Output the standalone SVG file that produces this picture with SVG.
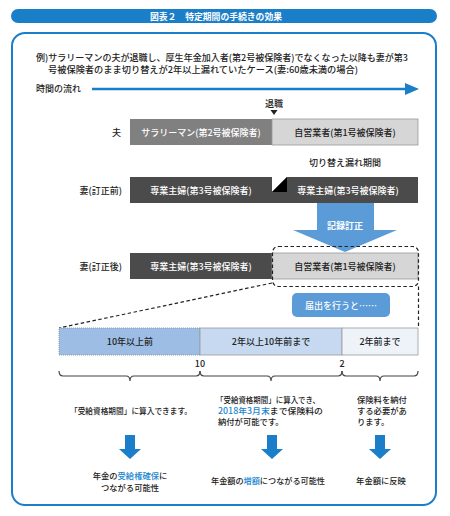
<svg xmlns="http://www.w3.org/2000/svg" width="450" height="516" viewBox="0 0 450 516">
<style>
text{font-family:"Noto Sans CJK JP","Noto Sans",sans-serif;fill:#222;font-weight:500;}
.t9{font-size:9px;}
.t8{font-size:8.3px;}
.w{fill:#fff;}
.c{text-anchor:middle;}
.r{text-anchor:end;}
.b{fill:#1a86d0;}
.lt{fill:#d6d6d6;stroke:#9a9a9a;stroke-width:0.8;}
.dk{fill:#4b4b4b;}
.md{fill:#808080;}
.dash{fill:none;stroke:#222;stroke-width:1.2;stroke-dasharray:3.5 2.5;}
.brace{fill:none;stroke:#444;stroke-width:1.2;}
.darr{fill:#1a7ec8;}
</style>
<rect x="11" y="9" width="426" height="14" rx="7" fill="#1a7ec8"/>
<text x="216" y="19.5" class="c w" style="font-size:8.8px;font-weight:bold">図表２　特定期間の手続きの効果</text>
<rect x="12" y="33" width="424" height="472" rx="13" fill="#fff" stroke="#1a7ec8" stroke-width="2"/>

<g id="intro">
<text x="36" y="61" class="t9" textLength="372" lengthAdjust="spacingAndGlyphs">例)サラリーマンの夫が退職し、厚生年金加入者(第2号被保険者)でなくなった以降も妻が第3</text>
<text x="48" y="72.5" class="t9" textLength="310" lengthAdjust="spacingAndGlyphs">号被保険者のまま切り替えが2年以上漏れていたケース(妻:60歳未満の場合)</text>
</g>

<g id="timeflow">
<text x="36" y="92" class="t9">時間の流れ</text>
<line x1="92" y1="89" x2="407" y2="89" stroke="#1a7ec8" stroke-width="2.6"/>
<polygon points="405,83 419,89 405,95" fill="#1a7ec8"/>
</g>

<g id="retire">
<text x="274" y="107" class="t9 c">退職</text>
<polygon points="270.5,110 277.5,110 274,115" fill="#222"/>
</g>

<g id="husband">
<text x="121" y="135.5" class="t9 r">夫</text>
<rect x="130" y="119" width="142" height="26" class="md"/>
<rect x="272" y="119" width="146" height="26" class="lt"/>
<text x="201" y="135.5" class="t9 c w">サラリーマン(第2号被保険者)</text>
<text x="345" y="135.5" class="t9 c">自営業者(第1号被保険者)</text>
</g>

<g id="gap-label">
<text x="345" y="166" class="t9 c">切り替え漏れ期間</text>
</g>

<g id="wife-before">
<text x="122" y="193.5" class="t9 r">妻(訂正前)</text>
<rect x="130" y="177" width="142" height="26" class="dk"/>
<rect x="272" y="177" width="146" height="26" class="dk"/>
<polygon points="272,177 287,177 272,192" fill="#fff"/>
<polygon points="287,177 287,192 272,192" fill="#000"/>
<text x="348" y="193.5" class="t9 c w">専業主婦(第3号被保険者)</text>
<text x="201" y="193.5" class="t9 c w">専業主婦(第3号被保険者)</text>
</g>

<g id="correction">
<polygon points="317,203 374,203 374,230 397,230 345,252 293,230 317,230" fill="#5a9bd8"/>
<text x="345" y="229" class="t9 c w" style="font-weight:bold">記録訂正</text>
</g>

<g id="wife-after">
<text x="122" y="269.5" class="t9 r">妻(訂正後)</text>
<rect x="130" y="253" width="142" height="26" class="dk"/>
<rect x="272" y="253" width="146" height="26" class="lt"/>
<text x="201" y="269.5" class="t9 c w">専業主婦(第3号被保険者)</text>
<text x="345" y="269.5" class="t9 c">自営業者(第1号被保険者)</text>
</g>

<g id="connectors">
<rect x="272.5" y="246.5" width="146" height="40" rx="6" class="dash"/>
<line x1="418.5" y1="286.5" x2="418.5" y2="328" class="dash"/>
<line x1="272" y1="283" x2="59" y2="328" class="dash"/>
</g>

<g id="notify">
<rect x="292" y="293" width="98" height="24" rx="5" fill="#5a9bd8"/>
<text x="341" y="308.5" class="t9 c w">届出を行うと……</text>
</g>

<g id="timeline">
<rect x="59" y="328" width="141" height="27" fill="#9dbde4" stroke="#7a8aa0" stroke-width="0.8" stroke-dasharray="1 1"/>
<rect x="200" y="328" width="142" height="27" fill="#c6d9f1" stroke="#9a9a9a" stroke-width="0.8"/>
<rect x="342" y="328" width="76" height="27" fill="#eef3fa" stroke="#9a9a9a" stroke-width="0.8"/>
<text x="130" y="344.5" class="t9 c">10年以上前</text>
<text x="271" y="344.5" class="t9 c">2年以上10年前まで</text>
<text x="380" y="344.5" class="t9 c">2年前まで</text>
<text x="200" y="366.5" class="t9 c">10</text>
<text x="342" y="366.5" class="t9 c">2</text>
</g>

<g id="braces">
<path class="brace" d="M59,371 Q59,376 63,376 L126,376 Q130,376 130,381 Q130,376 134,376 L196,376 Q200,376 200,371"/>
<path class="brace" d="M200,371 Q200,376 204,376 L267,376 Q271,376 271,381 Q271,376 275,376 L338,376 Q342,376 342,371"/>
<path class="brace" d="M342,371 Q342,376 346,376 L376,376 Q380,376 380,381 Q380,376 384,376 L414,376 Q418,376 418,371"/>
</g>

<g id="col1">
<text x="131" y="414" class="t8 c" textLength="122" lengthAdjust="spacingAndGlyphs">「受給資格期間」に算入できます。</text>
<polygon points="125,435 135,435 135,449 141,449 130,459 119,449 125,449" class="darr"/>
<text x="130" y="479" class="t8 c">年金の<tspan class="b">受給権確保</tspan>に</text>
<text x="130" y="490.5" class="t8 c">つながる可能性</text>
</g>

<g id="col2">
<text x="216" y="403" class="t8" textLength="104" lengthAdjust="spacingAndGlyphs">「受給資格期間」に算入でき、</text>
<text x="218" y="414" class="t8" textLength="105" lengthAdjust="spacingAndGlyphs"><tspan class="b">2018年3月末</tspan>まで保険料の</text>
<text x="218" y="425" class="t8">納付が可能です。</text>
<polygon points="267,435 277,435 277,449 283,449 272,459 261,449 267,449" class="darr"/>
<text x="268" y="484" class="t8 c" textLength="114" lengthAdjust="spacingAndGlyphs">年金額の<tspan class="b">増額</tspan>につながる可能性</text>
</g>

<g id="col3">
<text x="357" y="403" class="t8">保険料を納付</text>
<text x="357" y="414" class="t8">する必要があ</text>
<text x="357" y="425" class="t8">ります。</text>
<polygon points="375,435 385,435 385,449 391,449 380,459 369,449 375,449" class="darr"/>
<text x="381" y="484" class="t8 c">年金額に反映</text>
</g>
</svg>
